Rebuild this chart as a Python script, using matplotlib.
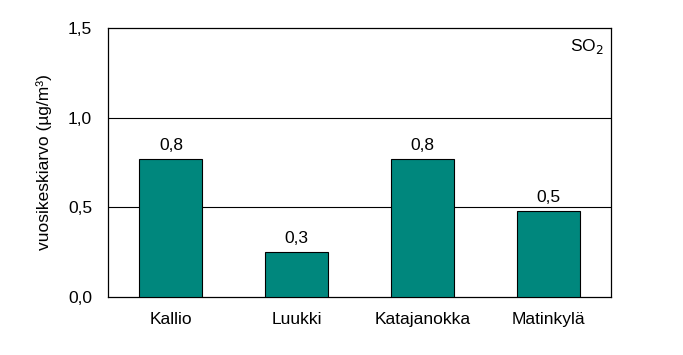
import matplotlib.pyplot as plt

plt.rcParams['font.family'] = ['Liberation Sans', 'DejaVu Sans']

stations = ['Kallio', 'Luukki', 'Katajanokka', 'Matinkylä']
values = [0.77, 0.25, 0.77, 0.48]
labels = ['0,8', '0,3', '0,8', '0,5']
yticks = [0.0, 0.5, 1.0, 1.5]
ytick_labels = ['0,0', '0,5', '1,0', '1,5']

fs = 12.5
fig = plt.figure(figsize=(6.83, 3.55), dpi=100)
ax = fig.add_axes([108 / 683, 1 - 297 / 355, 503 / 683, 269 / 355])

x = range(len(stations))
ax.bar(x, values, width=0.5, color='#00877D', edgecolor='black', linewidth=0.8, zorder=3)
for xi, v, lab in zip(x, values, labels):
    ax.text(xi, v + 0.035, lab, ha='center', va='bottom', fontsize=fs)

for g in [0.5, 1.0]:
    ax.axhline(g, color='black', linewidth=0.8, zorder=1)

ax.set_xlim(-0.5, 3.5)
ax.set_ylim(0, 1.5)
ax.set_xticks(list(x))
ax.set_xticklabels(stations, fontsize=fs)
ax.set_yticks(yticks)
ax.set_yticklabels(ytick_labels, fontsize=fs)
ax.tick_params(length=0)
ax.tick_params(axis='y', pad=11.5)
ax.tick_params(axis='x', pad=11)
for s in ax.spines.values():
    s.set_linewidth(0.9)

ax.set_ylabel('vuosikeskiarvo (µg/m³)', fontsize=fs, labelpad=11)
ax.text(0.985, 0.93, 'SO$_2$', transform=ax.transAxes, ha='right', va='center', fontsize=fs)

fig.savefig('out.png', dpi=100)
